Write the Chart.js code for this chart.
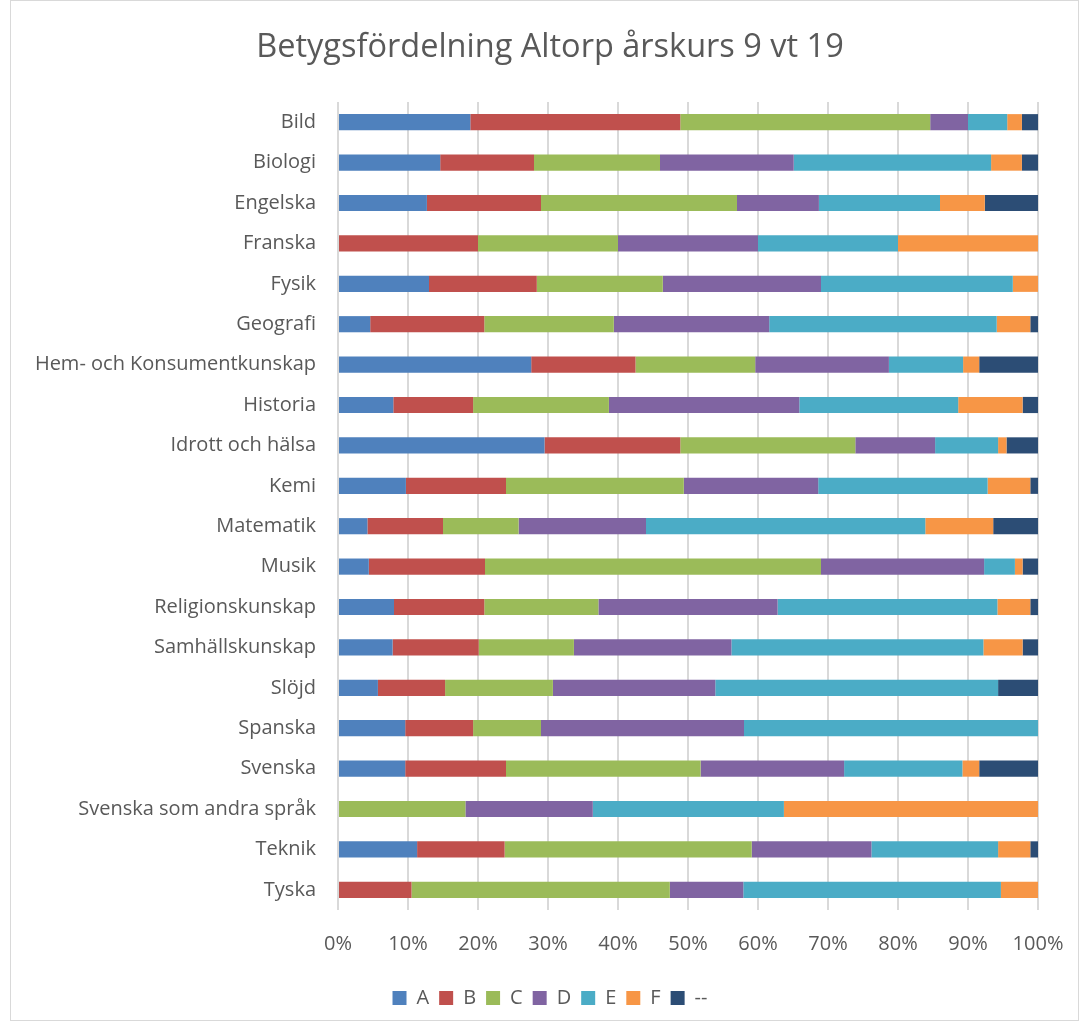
<!DOCTYPE html>
<html>
<head>
<meta charset="utf-8">
<script src="https://cdn.jsdelivr.net/npm/chart.js@4.4.1/dist/chart.umd.min.js"></script>
<style>
  html, body { margin: 0; padding: 0; background: #ffffff; }
  #wrap { width: 1081px; height: 1026px; position: relative; }
</style>
</head>
<body>
<div id="wrap"><canvas id="betygChart"></canvas></div>
<script>
// ämnen (kategorier)
const subjects = ['Bild', 'Biologi', 'Engelska', 'Franska', 'Fysik', 'Geografi',
    'Hem- och Konsumentkunskap', 'Historia', 'Idrott och hälsa', 'Kemi', 'Matematik',
    'Musik', 'Religionskunskap', 'Samhällskunskap', 'Slöjd', 'Spanska', 'Svenska',
    'Svenska som andra språk', 'Teknik', 'Tyska'];

// andel per betyg (%)
const gradeA    = [18.9, 14.6, 12.7, 0, 13.0, 4.6, 27.6, 7.9, 29.5, 9.7, 4.2, 4.4, 8.0, 7.8, 5.7, 9.6, 9.6, 0, 11.3, 0];
const gradeB    = [30.0, 13.4, 16.3, 20, 15.4, 16.3, 14.9, 11.4, 19.4, 14.3, 10.8, 16.6, 12.9, 12.3, 9.6, 9.7, 14.4, 0, 12.5, 10.5];
const gradeC    = [35.7, 18.0, 28.0, 20, 18.0, 18.5, 17.1, 19.4, 25.0, 25.4, 10.8, 48.0, 16.3, 13.6, 15.4, 9.7, 27.8, 18.2, 35.3, 36.9];
const gradeD    = [5.4, 19.1, 11.7, 20, 22.6, 22.2, 19.1, 27.2, 11.4, 19.2, 18.2, 23.3, 25.6, 22.5, 23.2, 29.0, 20.5, 18.2, 17.1, 10.5];
const gradeE    = [5.6, 28.2, 17.3, 20, 27.4, 32.5, 10.6, 22.7, 9.0, 24.2, 39.9, 4.4, 31.4, 36.0, 40.4, 42.0, 16.9, 27.3, 18.1, 36.8];
const gradeF    = [2.1, 4.4, 6.4, 20, 3.6, 4.8, 2.3, 9.2, 1.2, 6.1, 9.7, 1.1, 4.7, 5.6, 0, 0, 2.4, 36.3, 4.6, 5.3];
const gradeNone = [2.3, 2.3, 7.6, 0, 0, 1.1, 8.4, 2.2, 4.5, 1.1, 6.4, 2.2, 1.1, 2.2, 5.7, 0, 8.4, 0, 1.1, 0];

const gradeLabels = ['A', 'B', 'C', 'D', 'E', 'F', '--'];
const gradeColors = ['#4F81BD', '#C0504D', '#9BBB59', '#8064A2', '#4BACC6', '#F79646', '#2C4D75'];
const gradeData = [gradeA, gradeB, gradeC, gradeD, gradeE, gradeF, gradeNone];

const textColor = '#595959';
const fontName = '"Open Sans", Lato, sans-serif';
const padLeft = 62;

// ram runt diagrammet + låt y-etiketterna gå ut i vänstermarginalen
const frame = {
    id: 'frame',
    afterLayout(chart) {
        chart.scales.y.left = 0;
    },
    afterDraw(chart) {
        const ctx = chart.ctx;
        ctx.save();
        ctx.strokeStyle = '#d9d9d9';
        ctx.lineWidth = 1;
        ctx.strokeRect(10.5, 0.5, chart.width - 13, chart.height - 6);
        ctx.restore();
    }
};

const ctxB = document.getElementById('betygChart');
const betygChart = new Chart(ctxB, {
    type: 'bar',
    data: {
        labels: subjects,
        datasets: gradeLabels.map((g, i) => ({
            label: g,
            data: gradeData[i],
            backgroundColor: gradeColors[i],
            borderWidth: 0,
            categoryPercentage: 1,
            barPercentage: 0.4
        }))
    },
    options: {
        indexAxis: 'y',
        responsive: true,
        maintainAspectRatio: false,
        animation: false,
        layout: {
            padding: { left: padLeft, right: 43, top: 0, bottom: 8 }
        },
        scales: {
            x: {
                stacked: true,
                min: 0,
                max: 100,
                ticks: {
                    stepSize: 10,
                    padding: 2,
                    color: textColor,
                    font: { family: fontName, size: 20 },
                    callback: v => v + '%'
                },
                grid: {
                    color: '#d9d9d9',
                    lineWidth: 2,
                    drawTicks: true,
                    tickLength: 20,
                    tickColor: 'rgba(0,0,0,0)'
                },
                border: { display: false },
                afterFit: scale => { scale.height = 68; }
            },
            y: {
                stacked: true,
                ticks: {
                    padding: 22,
                    color: textColor,
                    font: { family: fontName, size: 20 }
                },
                grid: { display: false, drawTicks: false },
                border: { display: false },
                afterFit: scale => { scale.width = 338 - padLeft; }
            }
        },
        plugins: {
            legend: {
                display: true,
                position: 'bottom',
                labels: {
                    boxWidth: 14,
                    boxHeight: 14,
                    padding: 10,
                    color: textColor,
                    font: { family: fontName, size: 20 }
                }
            },
            title: {
                display: true,
                position: 'top',
                text: 'Betygsfördelning Altorp årskurs 9 vt 19',
                color: textColor,
                padding: { top: 28, bottom: 35 },
                font: { family: fontName, size: 32.5, weight: 'normal' }
            },
            tooltip: { enabled: false }
        }
    },
    plugins: [frame]
});
</script>
</body>
</html>
